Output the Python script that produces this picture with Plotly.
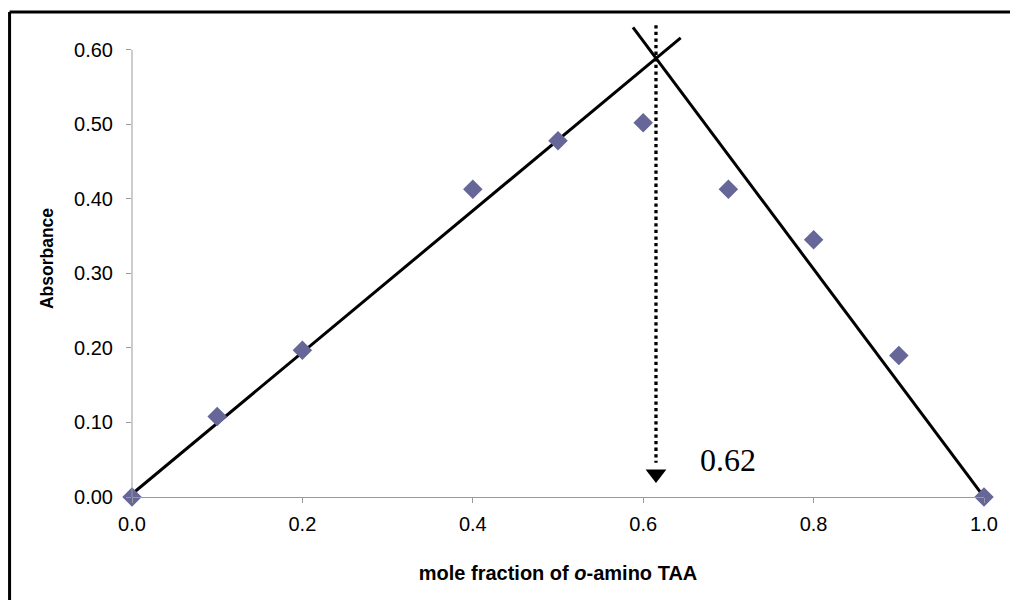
import plotly.graph_objects as go

# measured points (Job's plot)
mole_frac = [0.0, 0.1, 0.2, 0.4, 0.5, 0.6, 0.7, 0.8, 0.9, 1.0]
absorbance = [0.0, 0.108, 0.197, 0.413, 0.478, 0.502, 0.413, 0.345, 0.190, 0.0]

# hand-drawn fit lines (end points)
rise_x = [0.0, 0.644]
rise_y = [0.004, 0.616]
fall_x = [0.588, 1.0]
fall_y = [0.630, 0.0]

# dotted arrow marking the intersection
cross_x = [0.615, 0.615]
cross_y = [0.633, 0.046]
arrow_tip = 0.031
cross_label = "0.62"

y_ticks = [0.0, 0.1, 0.2, 0.3, 0.4, 0.5, 0.6]
x_ticks = [0.0, 0.2, 0.4, 0.6, 0.8, 1.0]

AXIS_GREY = "#9a9a9a"

fig = go.Figure()

fig.add_trace(go.Scatter(x=rise_x, y=rise_y, mode="lines",
                         line=dict(color="black", width=3), hoverinfo="skip"))
fig.add_trace(go.Scatter(x=fall_x, y=fall_y, mode="lines",
                         line=dict(color="black", width=3), hoverinfo="skip"))
fig.add_trace(go.Scatter(x=cross_x, y=cross_y, mode="lines",
                         line=dict(color="black", width=3.3, dash="dot"), hoverinfo="skip"))
fig.add_trace(go.Scatter(x=[cross_x[0]], y=[arrow_tip], mode="markers",
                         marker=dict(symbol="triangle-down", size=18, color="black"),
                         cliponaxis=False, hoverinfo="skip"))
fig.add_trace(go.Scatter(x=mole_frac, y=absorbance, mode="markers",
                         marker=dict(symbol="diamond", size=15, color="#666699"),
                         cliponaxis=False))

fig.add_annotation(x=0.699, y=0.05, text=cross_label, showarrow=False,
                   font=dict(family="Liberation Serif", size=32, color="black"))

# left axis line only up to 0.60
fig.add_shape(type="line", xref="paper", yref="y", x0=0, x1=0, y0=0, y1=0.6,
              line=dict(color=AXIS_GREY, width=1))

# outer frame (only top and left edges show)
fig.add_shape(type="line", xref="paper", yref="paper", x0=-0.1437, x1=1.1,
              y0=1.0168, y1=1.0168, line=dict(color="black", width=3))
fig.add_shape(type="line", xref="paper", yref="paper", x0=-0.1437, x1=-0.1437,
              y0=1.0168, y1=-0.3, line=dict(color="black", width=3))

fig.update_layout(
    width=1010, height=600,
    margin=dict(l=132, r=22, t=20, b=103),
    paper_bgcolor="white", plot_bgcolor="white",
    showlegend=False,
    font=dict(family="Liberation Sans, Arial", color="black"),
    xaxis=dict(
        range=[0, 1], tickvals=x_ticks, tickformat=".1f",
        showgrid=False, zeroline=False,
        showline=True, linecolor=AXIS_GREY, linewidth=1,
        ticks="outside", ticklen=5, tickcolor=AXIS_GREY,
        tickfont=dict(size=20), ticklabelstandoff=4,
        title=dict(text="<b>mole fraction of <i>o</i>-amino TAA</b>",
                   font=dict(size=20), standoff=31),
    ),
    yaxis=dict(
        range=[0, 0.64], tickvals=y_ticks, tickformat=".2f",
        showgrid=False, zeroline=False, showline=False,
        ticks="outside", ticklen=5, tickcolor=AXIS_GREY,
        tickfont=dict(size=20), ticklabelstandoff=9,
        title=dict(text="<b>Absorbance</b>", font=dict(size=17.5), standoff=15),
    ),
)

# page body has a default 8px margin; drop it so the figure sits at 0,0
fig.write_html("out.html", config={"displayModeBar": False},
               post_script="document.body.style.margin='0';")
